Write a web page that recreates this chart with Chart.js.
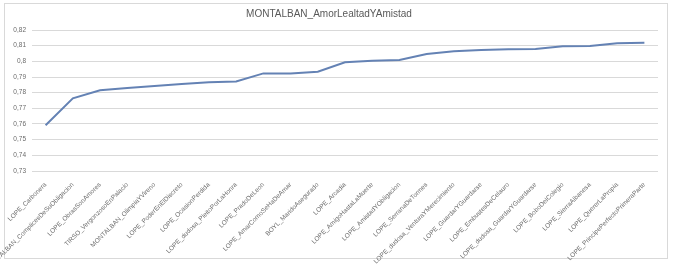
<!DOCTYPE html>
<html>
<head>
<meta charset="utf-8">
<script src="https://cdn.jsdelivr.net/npm/chart.js@4.4.1/dist/chart.umd.min.js"></script>
<style>
  html, body { margin: 0; padding: 0; background: #fff; }
  #wrap { position: relative; width: 673px; height: 267px; overflow: hidden; }
  #frame { position: absolute; left: 4px; top: 3px; width: 662px; height: 254px; border: 1px solid #d9d9d9; }
  #c { position: absolute; left: 0; top: 0; }
</style>
</head>
<body>
<div id="wrap">
  <div id="frame"></div>
  <canvas id="c" width="673" height="267"></canvas>
</div>
<script>
(function() {
"use strict";

var titleText = "MONTALBAN_AmorLealtadYAmistad";

var plays = [
  "LOPE_Carbonera",
  "MONTALBAN_ComplicesDeSuObligacion",
  "LOPE_ObrasSonAmores",
  "TIRSO_VergonzosoEnPalacio",
  "MONTALBAN_OlimpiaYVireno",
  "LOPE_PoderEnElDiscreto",
  "LOPE_OcasionPerdida",
  "LOPE_dudosa_PleitoPorLaHonra",
  "LOPE_PradoDeLeon",
  "LOPE_AmarComoSeHaDeAmar",
  "BOYL_MaridoAsegurado",
  "LOPE_Arcadia",
  "LOPE_AmigoHastaLaMuerte",
  "LOPE_AmistadYObligacion",
  "LOPE_SerranaDeTormes",
  "LOPE_dudosa_VenturaYMerecimiento",
  "LOPE_GuardarYGuardarse",
  "LOPE_EmbustesDeCelauro",
  "LOPE_dudosa_GuardarYGuardarse",
  "LOPE_BoboDelColegio",
  "LOPE_SierraAlbanesa",
  "LOPE_QuererLaPropia",
  "LOPE_PrincipePerfectoPrimeraParte"
];

var similarity = [
  0.7592, 0.7764, 0.7815, 0.7830, 0.7842, 0.7855, 0.7866, 0.7872,
  0.7923, 0.7923, 0.7934, 0.7994, 0.8004, 0.8008, 0.8047, 0.8064,
  0.8072, 0.8077, 0.8079, 0.8096, 0.8098, 0.8115, 0.8119
];

var yMin = 0.73, yMax = 0.82, yStep = 0.01;

var font = "'Liberation Sans', 'DejaVu Sans', sans-serif";

function _fmtComma(v) {
  var s = String(Math.round(v * 100) / 100);
  return s.replace(".", ",");
}

new Chart(document.getElementById("c").getContext("2d"), {
  type: "line",
  data: {
    labels: plays,
    datasets: [{
      data: similarity,
      borderColor: "#6482b4",
      borderWidth: 2,
      pointRadius: 0,
      fill: false,
      tension: 0
    }]
  },
  options: {
    responsive: false,
    animation: false,
    layout: { padding: { left: 0, right: 15, top: 2, bottom: 0 } },
    plugins: {
      legend: { display: false },
      tooltip: { enabled: false },
      title: {
        display: true,
        text: titleText,
        color: "#595959",
        font: { family: font, size: 10, weight: "normal" },
        padding: { top: 6, bottom: 10 }
      }
    },
    scales: {
      x: {
        offset: true,
        grid: { display: false },
        border: { display: false },
        ticks: {
          autoSkip: false,
          minRotation: 45,
          maxRotation: 45,
          padding: 2,
          color: "#6b6b6b",
          font: { family: font, size: 6.5 }
        },
        afterFit: function(s) { s.height = 96; }
      },
      y: {
        min: yMin,
        max: yMax,
        grid: { color: "#d9d9d9", lineWidth: 1, drawTicks: false },
        border: { display: false },
        ticks: {
          stepSize: yStep,
          padding: 6,
          color: "#6b6b6b",
          font: { family: font, size: 6.5 },
          callback: function(v) { return _fmtComma(v); }
        },
        afterFit: function(s) { s.width = 32; }
      }
    }
  }
});

})();
</script>
</body>
</html>
